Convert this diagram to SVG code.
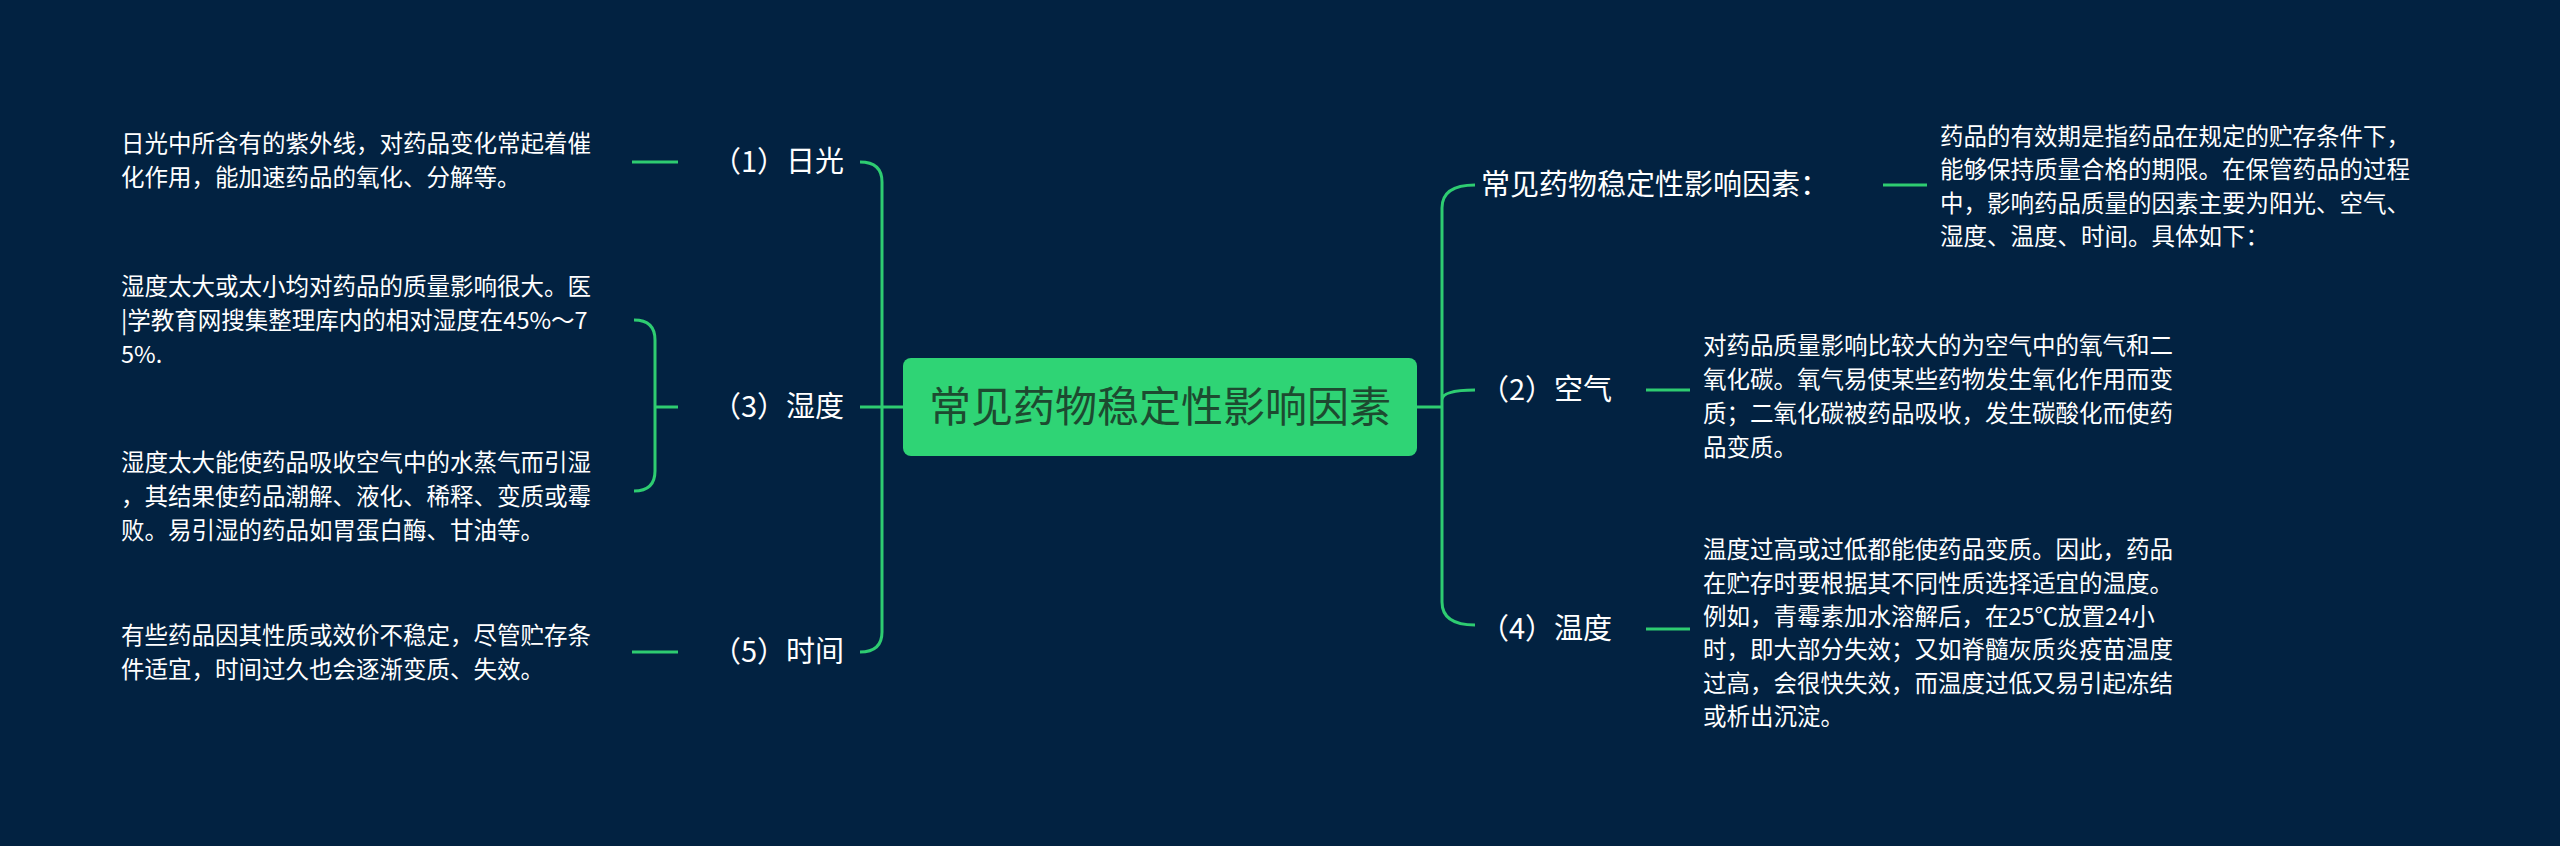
<svg xmlns="http://www.w3.org/2000/svg" width="2560" height="846" viewBox="0 0 2560 846">
<style>
.t{font-family:"Noto Sans CJK SC","Noto Sans",sans-serif;font-size:23.5px;fill:#ffffff}
.l{font-family:"Noto Sans CJK SC","Noto Sans",sans-serif;font-size:29px;fill:#ffffff}
.c{fill:none;stroke:#2ecc71;stroke-width:3}
</style>
<rect width="2560" height="846" fill="#022241"/>
<g id="connectors">
<path class="c" d="M860 162 Q882 162 882 182 V632 Q882 652 860 652 M903 407 H860 M678 162 H632 M678 652 H632"/>
<path class="c" d="M678 407 H655 M634 320 Q655 320 655 340 V471 Q655 491 634 491"/>
<path class="c" d="M1417 407 H1442 M1475 185 Q1442 185 1442 208 V602 Q1442 625 1475 625 M1442 400 Q1442 390 1475 390"/>
<path class="c" d="M1883 185 H1927 M1646 390 H1690 M1646 629 H1690"/>
</g>
<g id="root">
<rect x="903" y="358" width="514" height="98" rx="8" fill="#2fd475"/>
<text x="1160" y="422" text-anchor="middle" font-family="Noto Sans CJK SC,sans-serif" font-size="42" fill="#1d4a30">常见药物稳定性影响因素</text>
</g>
<g id="n1"><text class="l" x="712" y="172">（1）日光</text></g>
<g id="n1t"><text class="t"><tspan x="121" y="152">日光中所含有的紫外线，对药品变化常起着催</tspan><tspan x="121" y="186">化作用，能加速药品的氧化、分解等。</tspan></text></g>
<g id="n3"><text class="l" x="712" y="417">（3）湿度</text></g>
<g id="n3a"><text class="t"><tspan x="121" y="295">湿度太大或太小均对药品的质量影响很大。医</tspan><tspan x="121" y="329">|学教育网搜集整理库内的相对湿度在45%～7</tspan><tspan x="121" y="363">5%.</tspan></text></g>
<g id="n3b"><text class="t"><tspan x="121" y="471">湿度太大能使药品吸收空气中的水蒸气而引湿</tspan><tspan x="121" y="505">，其结果使药品潮解、液化、稀释、变质或霉</tspan><tspan x="121" y="539">败。易引湿的药品如胃蛋白酶、甘油等。</tspan></text></g>
<g id="n5"><text class="l" x="712" y="662">（5）时间</text></g>
<g id="n5t"><text class="t"><tspan x="121" y="644">有些药品因其性质或效价不稳定，尽管贮存条</tspan><tspan x="121" y="678">件适宜，时间过久也会逐渐变质、失效。</tspan></text></g>
<g id="n0"><text class="l" x="1481" y="195">常见药物稳定性影响因素：</text></g>
<g id="n0t"><text class="t"><tspan x="1940" y="145">药品的有效期是指药品在规定的贮存条件下，</tspan><tspan x="1940" y="178">能够保持质量合格的期限。在保管药品的过程</tspan><tspan x="1940" y="212">中，影响药品质量的因素主要为阳光、空气、</tspan><tspan x="1940" y="245">湿度、温度、时间。具体如下：</tspan></text></g>
<g id="n2"><text class="l" x="1480" y="400">（2）空气</text></g>
<g id="n2t"><text class="t"><tspan x="1703" y="354">对药品质量影响比较大的为空气中的氧气和二</tspan><tspan x="1703" y="388">氧化碳。氧气易使某些药物发生氧化作用而变</tspan><tspan x="1703" y="422">质；二氧化碳被药品吸收，发生碳酸化而使药</tspan><tspan x="1703" y="456">品变质。</tspan></text></g>
<g id="n4"><text class="l" x="1480" y="639">（4）温度</text></g>
<g id="n4t"><text class="t"><tspan x="1703" y="558">温度过高或过低都能使药品变质。因此，药品</tspan><tspan x="1703" y="592">在贮存时要根据其不同性质选择适宜的温度。</tspan><tspan x="1703" y="625">例如，青霉素加水溶解后，在25℃放置24小</tspan><tspan x="1703" y="658">时，即大部分失效；又如脊髓灰质炎疫苗温度</tspan><tspan x="1703" y="692">过高，会很快失效，而温度过低又易引起冻结</tspan><tspan x="1703" y="725">或析出沉淀。</tspan></text></g>
</svg>
